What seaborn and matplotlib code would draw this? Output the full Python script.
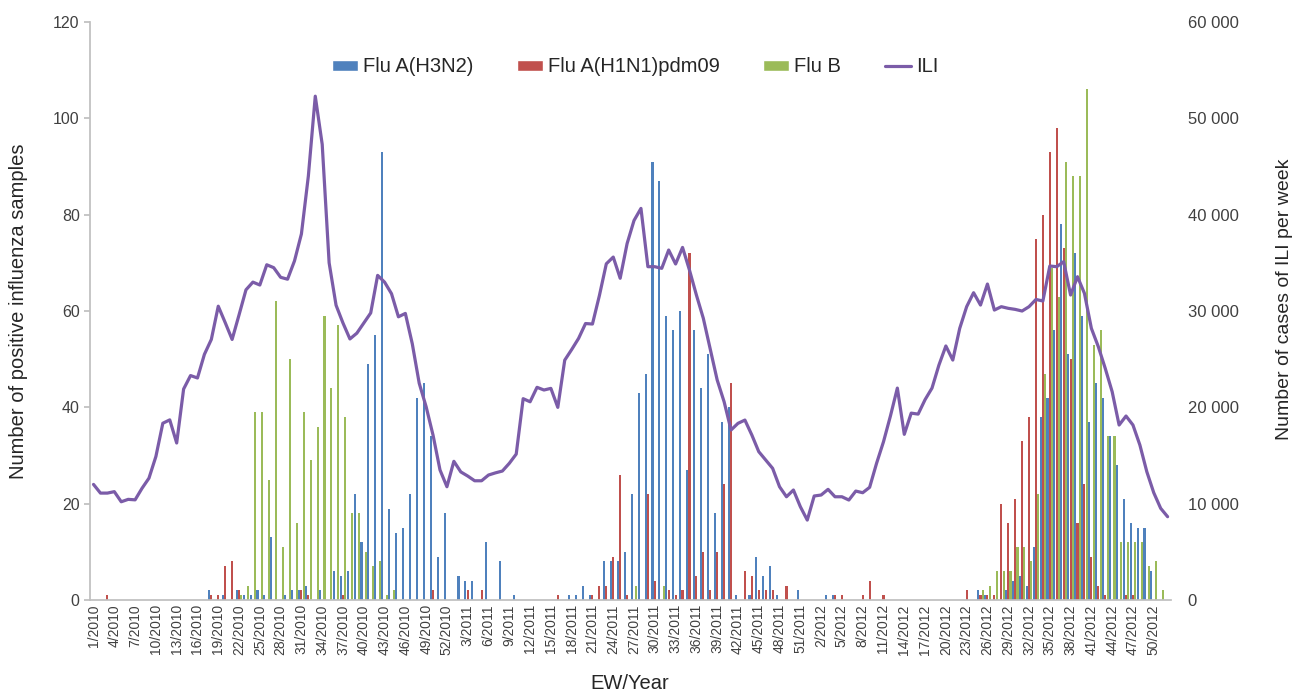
import numpy as np
import pandas as pd
import matplotlib
matplotlib.use("Agg")
import matplotlib.pyplot as plt
import seaborn as sns
from matplotlib.patches import Patch
from matplotlib.lines import Line2D

# epidemiological weeks 1/2010 ... 52/2012
years = [2010, 2011, 2012]
weeks = [f"{w}/{y}" for y in years for w in range(1, 53)]

# positive samples per week, one list per subtype and year
h3n2_2010 = [0] * 17 + [2, 0, 1, 0, 2, 1, 1, 2, 1, 13, 0, 1, 2, 2, 3, 0, 2, 0, 6, 5,
                        6, 22, 12, 49, 55, 93, 19, 14, 15, 22, 42, 45, 34, 9, 18]
h1n1_2010 = [0, 0, 1, 0, 0, 0, 0, 0, 0, 0, 0, 0, 0, 0, 0, 0, 0, 1, 1, 7,
             8, 2, 0, 0, 0, 0, 0, 0, 0, 0, 2, 1, 0, 0, 0, 0, 1, 0, 0, 0,
             0, 0, 0, 0, 0, 0, 0, 0, 0, 2, 0, 0]
flub_2010 = [0] * 20 + [0, 1, 3, 39, 39, 25, 62, 11, 50, 16,
                        39, 29, 36, 59, 44, 57, 38, 18, 18, 10,
                        7, 8, 1, 2, 0, 0, 0, 0, 0, 0, 0, 0]

h3n2_2011 = [0, 5, 4, 4, 0, 12, 0, 8, 0, 1, 0, 0, 0, 0, 0, 0, 0, 1, 1, 3,
             1, 0, 8, 8, 8, 10, 22, 43, 47, 91, 87, 59, 56, 60, 27, 56, 44, 51, 18, 37,
             40, 1, 0, 1, 9, 5, 7, 1, 0, 0, 2, 0]
h1n1_2011 = [0, 0, 2, 0, 2, 0, 0, 0, 0, 0, 0, 0, 0, 0, 0, 1, 0, 0, 0, 0,
             1, 3, 3, 9, 26, 1, 0, 0, 22, 4, 0, 2, 1, 2, 72, 5, 10, 2, 10, 24,
             45, 0, 6, 5, 2, 2, 2, 0, 3, 0, 0, 0]
flub_2011 = [0] * 26 + [3, 0, 0, 0, 3] + [0] * 21

h3n2_2012 = [0, 0, 1, 1, 0, 0, 0, 0, 0, 0] + [0] * 10 + \
            [0, 0, 0, 0, 2, 1, 0, 0, 2, 4, 5, 3, 11, 38, 42, 56, 78, 51, 72, 59,
             37, 45, 42, 34, 28, 21, 16, 15, 15, 6, 0, 0]
h1n1_2012 = [0, 0, 0, 1, 1, 0, 0, 1, 4, 0, 1, 0, 0, 0, 0, 0, 0, 0, 0, 0,
             0, 0, 2, 0, 1, 1, 1, 20, 16, 21, 33, 38, 75, 80, 93, 98, 73, 50, 16, 24,
             9, 3, 1, 0, 0, 1, 1, 0, 0, 0, 0, 0]
flub_2012 = [0] * 20 + [0, 0, 0, 0, 2, 3, 6, 6, 6, 11, 11, 8, 22, 47, 69, 63, 91, 88, 88, 106,
                        53, 56, 34, 34, 12, 12, 12, 12, 7, 8, 2, 0]

# ILI cases per week
ili_2010 = [12000, 11100, 11100, 11250, 10200, 10450, 10400, 11600, 12650, 14900,
            18350, 18700, 16300, 21900, 23300, 23050, 25500, 27050, 30500, 28800,
            27050, 29600, 32200, 33000, 32700, 34800, 34500, 33500, 33300, 35200,
            38000, 44000, 52300, 47300, 35000, 30600, 28750, 27100, 27700, 28750,
            29800, 33700, 33000, 31800, 29400, 29750, 26600, 22500, 20060, 17100,
            13500, 11760]
ili_2011 = [14400, 13300, 12870, 12380, 12380, 12975, 13200, 13390, 14190, 15150,
            20900, 20580, 22080, 21800, 21970, 20000, 24900, 26000, 27160, 28700,
            28650, 31600, 34900, 35600, 33400, 37000, 39400, 40650, 34600, 34600,
            34430, 36330, 34880, 36600, 34250, 31660, 29240, 26020, 22840, 20580,
            17650, 18340, 18680, 17130, 15400, 14530, 13670, 11760, 10720, 11420,
            9690, 8300]
ili_2012 = [10800, 10900, 11490, 10720, 10720, 10380, 11310, 11140, 11700, 14190,
            16430, 19100, 22000, 17200, 19400, 19300, 20800, 22000, 24390, 26370,
            24910, 28200, 30450, 31900, 30620, 32800, 30100, 30450, 30280, 30170,
            30000, 30450, 31200, 31040, 34670, 34600, 35120, 31660, 33560, 31830,
            28200, 26300, 24050, 21620, 18165, 19100, 18165, 16090, 13320, 11140,
            9520, 8650]

subtypes = ["Flu A(H3N2)", "Flu A(H1N1)pdm09", "Flu B"]
colors = ["#4F81BD", "#C0504D", "#9BBB59"]
line_color = "#7B5CA8"

counts = {
    "Flu A(H3N2)": h3n2_2010 + h3n2_2011 + h3n2_2012,
    "Flu A(H1N1)pdm09": h1n1_2010 + h1n1_2011 + h1n1_2012,
    "Flu B": flub_2010 + flub_2011 + flub_2012,
}
df = pd.concat(
    [pd.DataFrame({"week": weeks, "subtype": s, "n": counts[s]}) for s in subtypes],
    ignore_index=True,
)
ili = ili_2010 + ili_2011 + ili_2012

sns.set_theme(style="white")
plt.rcParams["font.family"] = ["Liberation Sans", "DejaVu Sans"]

fig = plt.figure(figsize=(12.94, 6.94), dpi=100)
ax = fig.add_axes([0.0696, 0.1354, 0.8354, 0.8329])

sns.barplot(data=df, x="week", y="n", hue="subtype", order=weeks,
            hue_order=subtypes, palette=colors, saturation=1, errorbar=None,
            width=1.0, gap=0.1, linewidth=0, legend=False, ax=ax)

ax2 = ax.twinx()
sns.lineplot(x=np.arange(len(weeks)), y=ili, color=line_color, linewidth=2.3, ax=ax2)

ax.set_xlim(-0.5, len(weeks) - 0.5)
ax.set_ylim(0, 120)
ax.set_yticks(range(0, 121, 20))
ax2.set_ylim(0, 60000)
ax2.set_yticks(range(0, 60001, 10000))
ax2.set_yticklabels([f"{v:,}".replace(",", " ") for v in range(0, 60001, 10000)])

ax.set_xticks(range(0, len(weeks), 3))
ax.set_xticklabels(weeks[::3], rotation=90, fontsize=10, color="#404040")

for s in ["top", "right"]:
    ax.spines[s].set_visible(False)
for s in ax2.spines.values():
    s.set_visible(False)
ax.spines["left"].set_color("#bfbfbf")
ax.spines["bottom"].set_color("#bfbfbf")
ax.tick_params(axis="y", labelsize=11.5, labelcolor="#404040", length=4,
               color="#bfbfbf", left=True)
ax.tick_params(axis="x", length=0, pad=3)
ax2.tick_params(axis="y", labelsize=12, labelcolor="#404040", length=0, pad=12)
ax.grid(False)
ax2.grid(False)

ax.set_xlabel("EW/Year", fontsize=14.5)
ax.xaxis.set_label_coords(0.4995, -0.128)
ax.set_ylabel("Number of positive influenza samples", fontsize=14.5)
ax.yaxis.set_label_coords(-0.0574, 0.5)
ax2.set_ylabel("Number of cases of ILI per week", fontsize=14)
ax2.yaxis.set_label_coords(1.097, 0.52)

handles = [Patch(facecolor=c) for c in colors] + [Line2D([], [], color=line_color, lw=2.3)]
fig.legend(handles, subtypes + ["ILI"], loc="center", bbox_to_anchor=(0.4907, 0.9035),
           ncol=4, frameon=False, fontsize=14.5, handlelength=1.3, handleheight=0.5,
           handletextpad=0.25, columnspacing=2.15)

fig.savefig("out.png", dpi=100)
